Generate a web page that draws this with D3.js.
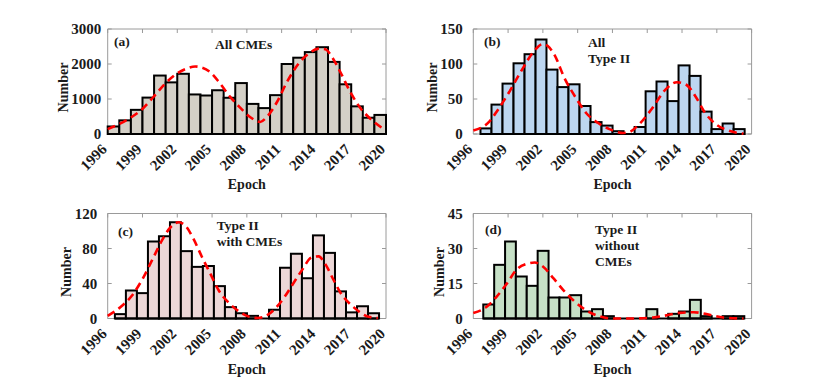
<!DOCTYPE html>
<html><head><meta charset="utf-8">
<script src="https://cdn.jsdelivr.net/npm/d3@7"></script>
<style>
body{margin:0;background:#fff}
svg{display:block}
text{font-family:"Liberation Serif","Times New Roman",serif;font-weight:bold;fill:#1a1a1a}
</style>
</head><body>
<svg id="chart" width="830" height="388"></svg>
<script>
// ---------- data ----------
const xTickYears = [1996, 1999, 2002, 2005, 2008, 2011, 2014, 2017, 2020];

// (a) yearly bins
const binEdgesA = [1996,1997,1998,1999,2000,2001,2002,2003,2004,2005,2006,2007,2008,2009,2010,2011,2012,2013,2014,2015,2016,2017,2018,2019,2020];
const allCMEs = [215,390,690,1040,1670,1475,1720,1130,1100,1250,1035,1455,860,740,1110,2000,2180,2340,2480,2060,1420,790,465,545];
const fitAllCMEs = [[1996,140],[1997.06,295],[1998.07,486],[1999.08,743],[1999.94,1057],[2000.95,1438],[2001.96,1724],[2002.8,1867],[2003.54,1930],[2004.0,1910],[2004.83,1771],[2005.7,1440],[2006.56,1060],[2007.4,760],[2008.3,480],[2009.15,345],[2009.73,490],[2010.6,914],[2011.46,1486],[2012.46,2010],[2013.32,2295],[2014.19,2438],[2014.76,2420],[2015.34,2200],[2016.06,1771],[2016.92,1200],[2017.79,743],[2018.8,390],[2019.9,120]];

// (b),(c) bins
const binEdgesBC = [1996.62,1997.57,1998.52,1999.47,2000.42,2001.37,2002.31,2003.26,2004.21,2005.16,2006.11,2007.06,2008.01,2008.96,2009.91,2010.86,2011.80,2012.75,2013.70,2014.65,2015.60,2016.55,2017.50,2018.45,2019.40];
const allTypeII = [8,42,72,101,114,135,92,67,71,40,17,12,4,0,10,61,75,47,98,83,32,7,15,7];
const fitAllTypeII = [[1996,5],[1997.4,18],[1998.1,34],[1999.1,60],[2000.1,89],[2001.27,119],[2002.0,128.5],[2002.4,126],[2003.0,113],[2003.86,80],[2004.87,51],[2005.73,30],[2006.74,16],[2007.74,7],[2008.95,1.5],[2009.4,2.5],[2010.25,13],[2011.4,36],[2012.55,63],[2013.56,74],[2014.4,70],[2015.15,54],[2016.0,30],[2017.0,13],[2018.0,5],[2019.3,0.5]];
const typeIIWithCMEs = [5,32,29,88,94,110,77,59,60,37,13,6,3,0,10,58,74,46,95,75,31,7,14,6];
const fitTypeIIWithCMEs = [[1996,3],[1997.06,12.6],[1998.08,26],[1999.08,47],[1999.95,70],[2000.67,89],[2001.4,104],[2002.12,110],[2002.7,106],[2003.4,91],[2004.14,70],[2004.86,51],[2005.58,32],[2006.44,18],[2007.45,7],[2008.0,3],[2008.9,0.5],[2009.5,2],[2010.4,10.7],[2011.26,24.8],[2012.0,40],[2012.74,55],[2013.58,69.7],[2014.2,71],[2014.73,63],[2015.48,44],[2016.05,30],[2017.2,13],[2018.5,2],[2019.3,0.5]];

// (d) bins
const binEdgesD = [1996.86,1997.80,1998.74,1999.67,2000.61,2001.55,2002.49,2003.43,2004.36,2005.30,2006.24,2007.18,2008.12,2009.05,2009.99,2010.93,2011.87,2012.81,2013.74,2014.68,2015.62,2016.56,2017.50,2018.43,2019.37];
const typeIIWithoutCMEs = [6,23,33,18,14,29,9,9,10,3,4,1,0,0,0,4,0,2,3,8,1,0,1,1];
const fitTypeIIWithoutCMEs = [[1996,2.4],[1997.15,5],[1998,9.3],[1998.9,15],[1999.7,20.8],[2000.6,23.4],[2001.3,24],[2002,22.3],[2002.9,17.3],[2003.76,12.2],[2004.6,7.9],[2005.5,4.3],[2006.6,1.4],[2008.07,0],[2009.8,0],[2011.5,0.4],[2012.7,1.4],[2013.8,2.4],[2015,2.7],[2016.1,1.9],[2017.55,0.4],[2019.3,0]];

const yTicksA = [0,1000,2000,3000];
const yTicksB = [0,50,100,150];
const yTicksC = [0,40,80,120];
const yTicksD = [0,15,30,45];

const panels = [
  {x0:107.7, y0:29, edges:binEdgesA, vals:allCMEs, fit:fitAllCMEs, yMax:3000, yTicks:yTicksA, fill:"#d4d0c7", tickGap:6.5,
   tag:"(a)", tagPos:[114,45.5], title:["All CMEs"], titlePos:[215,49], lineH:16.5},
  {x0:473.3, y0:29, edges:binEdgesBC, vals:allTypeII, fit:fitAllTypeII, yMax:150, yTicks:yTicksB, fill:"#bdd6f0", tickGap:10.5,
   tag:"(b)", tagPos:[484,45.5], title:["All","Type II"], titlePos:[588,46.7], lineH:16.6},
  {x0:107.7, y0:213.5, edges:binEdgesBC, vals:typeIIWithCMEs, fit:fitTypeIIWithCMEs, yMax:120, yTicks:yTicksC, fill:"#ecd7d7", tickGap:10.5,
   tag:"(c)", tagPos:[118,236], title:["Type II","with CMEs"], titlePos:[216.7,230], lineH:16.3},
  {x0:473.3, y0:213.5, edges:binEdgesD, vals:typeIIWithoutCMEs, fit:fitTypeIIWithoutCMEs, yMax:45, yTicks:yTicksD, fill:"#c6e0c6", tickGap:10.5,
   tag:"(d)", tagPos:[485,233.5], title:["Type II","without","CMEs"], titlePos:[595,234], lineH:15.9}
];

const PW = 278.3, PH = 105;
const TICK_FS = 15;
const svg = d3.select("#chart");

panels.forEach(p => {
  const x = d3.scaleLinear().domain([1996, 2020]).range([p.x0, p.x0 + PW]);
  const y = d3.scaleLinear().domain([0, p.yMax]).range([p.y0 + PH, p.y0]);
  const g = svg.append("g");
  const y1 = p.y0 + PH;

  // frame (gray) left, top, right
  g.append("path")
    .attr("d", `M${p.x0},${y1}V${p.y0}H${p.x0+PW}V${y1}`)
    .attr("fill","none").attr("stroke","#9a9a9a").attr("stroke-width",1);

  // ticks inward
  p.yTicks.forEach(t => {
    g.append("line").attr("x1",p.x0).attr("x2",p.x0+4).attr("y1",y(t)).attr("y2",y(t)).attr("stroke","#9a9a9a");
    g.append("line").attr("x1",p.x0+PW).attr("x2",p.x0+PW-4).attr("y1",y(t)).attr("y2",y(t)).attr("stroke","#9a9a9a");
  });
  xTickYears.forEach(t => {
    g.append("line").attr("x1",x(t)).attr("x2",x(t)).attr("y1",p.y0).attr("y2",p.y0+4).attr("stroke","#9a9a9a");
  });
  // bottom line gray
  g.append("line").attr("x1",p.x0).attr("x2",p.x0+PW).attr("y1",y1).attr("y2",y1).attr("stroke","#9a9a9a");

  // bars
  g.selectAll("rect.bar").data(p.vals).enter().append("rect")
    .attr("x", (d,i) => x(p.edges[i]))
    .attr("width", (d,i) => x(p.edges[i+1]) - x(p.edges[i]))
    .attr("y", d => y(d))
    .attr("height", d => y1 - y(d))
    .attr("fill", p.fill).attr("stroke","#000").attr("stroke-width",2);
  // baseline of bins
  g.append("line").attr("x1", x(p.edges[0])).attr("x2", x(p.edges[p.edges.length-1]))
    .attr("y1", y1).attr("y2", y1).attr("stroke","#000").attr("stroke-width",2);

  // fit curve
  g.append("path").datum(p.fit)
    .attr("d", d3.line().x(d=>x(d[0])).y(d=>y(d[1])).curve(d3.curveMonotoneX))
    .attr("fill","none").attr("stroke","#ff0000").attr("stroke-width",2.6)
    .attr("stroke-dasharray","8,5");

  // y tick labels
  const yl = p.yTicks.map(t => g.append("text")
    .attr("x", p.x0 - p.tickGap).attr("y", y(t) + 0.338*TICK_FS)
    .attr("text-anchor","end").attr("font-size",TICK_FS).text(t));
  const minX = d3.min(yl, t => t.node().getBBox().x);

  // y label
  const cy = p.y0 + PH/2 + 6;
  g.append("text").attr("transform", `translate(${minX - 3.5},${cy}) rotate(-90)`)
    .attr("text-anchor","middle").attr("font-size",14).text("Number");

  // x tick labels
  xTickYears.forEach(t => {
    g.append("text").attr("transform", `translate(${x(t)},${y1 + 16.2}) rotate(-45)`)
      .attr("text-anchor","end").attr("font-size",TICK_FS).text(t);
  });
  // x label
  g.append("text").attr("x", p.x0 + PW/2).attr("y", y1 + 55)
    .attr("text-anchor","middle").attr("font-size",14).text("Epoch");

  // annotations
  g.append("text").attr("x", p.tagPos[0]).attr("y", p.tagPos[1]).attr("font-size",13.5).text(p.tag);
  p.title.forEach((s,i) => {
    g.append("text").attr("x", p.titlePos[0]).attr("y", p.titlePos[1] + i*p.lineH)
      .attr("font-size",13.5).text(s);
  });
});
</script>
</body></html>
